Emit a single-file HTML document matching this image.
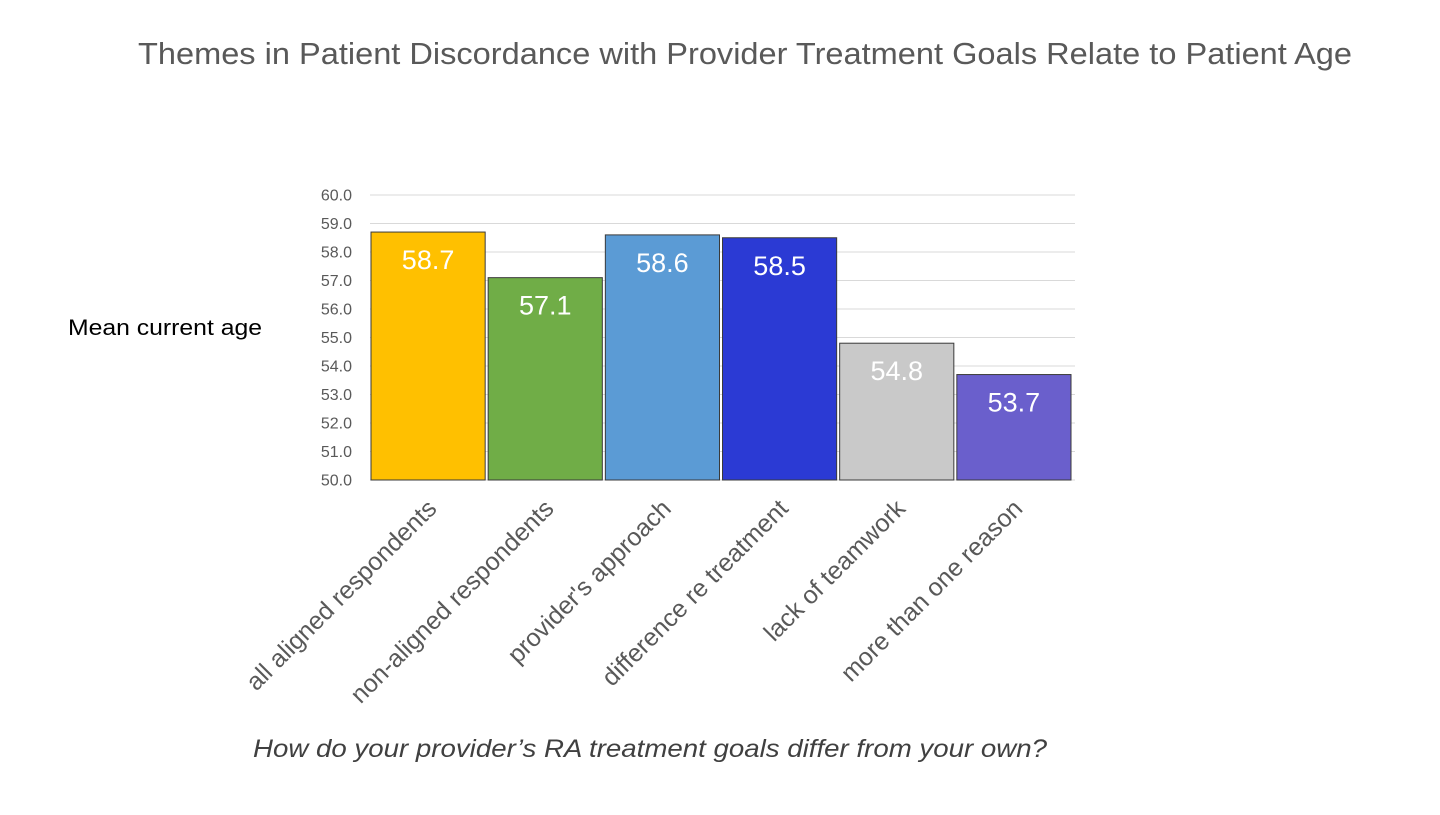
<!DOCTYPE html>
<html><head><meta charset="utf-8"><style>
body{margin:0;background:#fff;font-family:"Liberation Sans",sans-serif}
</style></head><body>
<svg width="1440" height="810" xmlns="http://www.w3.org/2000/svg" id="svg">
<text x="138" y="64" font-size="31" fill="#595959" textLength="1214" lengthAdjust="spacingAndGlyphs">Themes in Patient Discordance with Provider Treatment Goals Relate to Patient Age</text>
<text x="68" y="335" font-size="22" fill="#000" textLength="194" lengthAdjust="spacingAndGlyphs">Mean current age</text>
<text x="253" y="757" font-size="25" font-style="italic" fill="#404040" textLength="794" lengthAdjust="spacingAndGlyphs">How do your provider’s RA treatment goals differ from your own?</text>
<g id="grid"></g><g id="bars"></g><g id="labels"></g>
</svg>
<script>
const categories=["all aligned respondents","non-aligned respondents","provider's approach","difference re treatment","lack of teamwork","more than one reason"];
const values=[58.7,57.1,58.6,58.5,54.8,53.7];
const valueLabels=["58.7","57.1","58.6","58.5","54.8","53.7"];
const ticks=[50,51,52,53,54,55,56,57,58,59,60];
const colors=["#FFC000","#70AD47","#5B9BD5","#2B3AD4","#C9C9C9","#6A5FCC"];
const NS="http://www.w3.org/2000/svg";
const x0=370,x1=1073,yMin=50,yMax=60,yTop=195,yBot=480;
const y=v=>yBot-(v-yMin)/(yMax-yMin)*(yBot-yTop);
const bw=(x1-x0)/categories.length;
const g=document.getElementById('grid'),b=document.getElementById('bars'),l=document.getElementById('labels');
function mk(tag,attrs,parent,text){const e=document.createElementNS(NS,tag);for(const k in attrs)e.setAttribute(k,attrs[k]);if(text!==undefined)e.textContent=text;parent.appendChild(e);return e;}
ticks.forEach(t=>{
  const ln=mk('line',{x1:x0,x2:x1+2,y1:y(t),y2:y(t),stroke:'#d9d9d9','stroke-width':1},g);
  
  
  const tx=mk('text',{x:352,y:y(t)+5.5,'text-anchor':'end','font-size':16,fill:'#595959'},g,t.toFixed(1));
  
  
});
categories.forEach((c,i)=>{
  const bx=x0+i*bw+1, w=bw-3;
  const r=mk('rect',{x:bx,y:y(values[i]),width:w,height:yBot-y(values[i]),fill:colors[i],stroke:'#3a3a3a','stroke-width':1},b);
  
  
  const vt=mk('text',{x:bx+w/2,y:y(values[i])+37,'text-anchor':'middle','font-size':27,fill:'#fff'},l,valueLabels[i]);
  
  
  const cx=bx+w/2+10;
  const ct=mk('text',{x:cx,y:510,'text-anchor':'end','font-size':25,fill:'#595959',transform:`rotate(-45 ${cx} 510)`},l,c);
  
  
});
</script>
</body></html>
